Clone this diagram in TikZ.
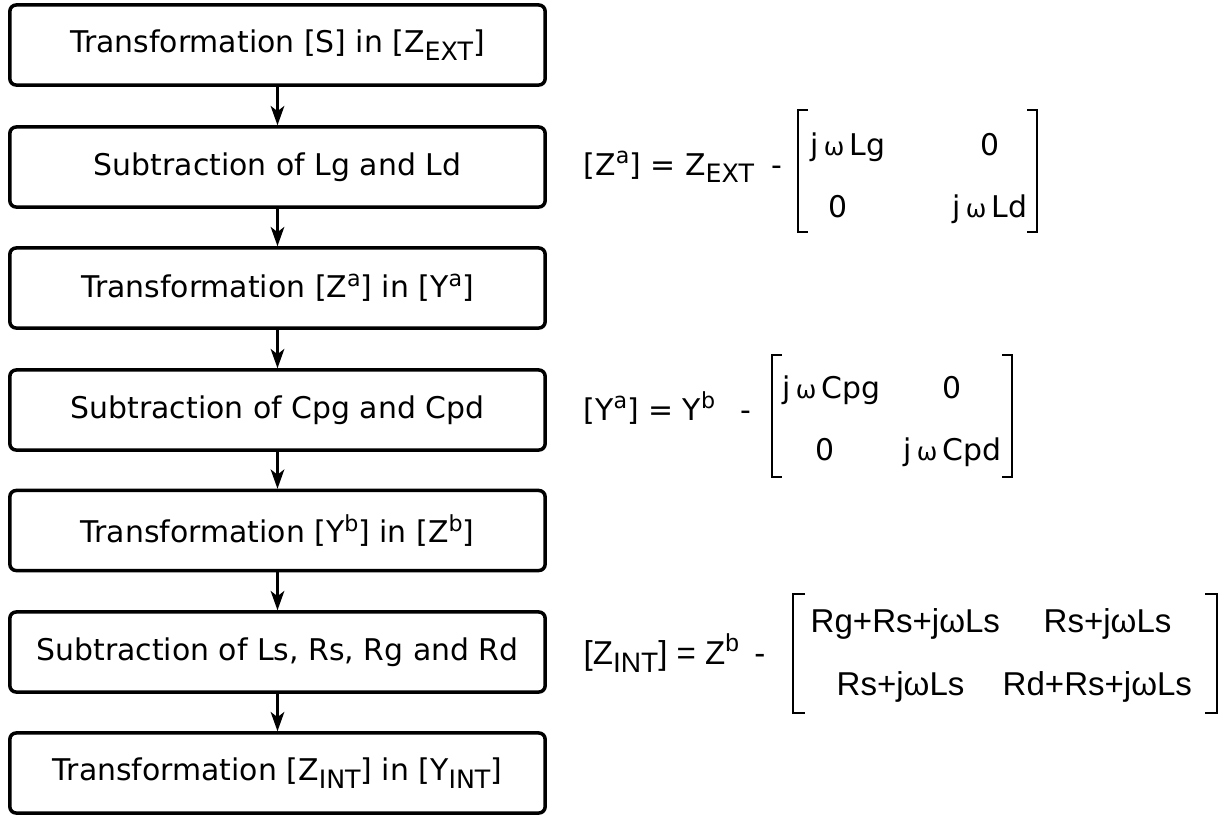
\documentclass[tikz,border=0pt]{standalone}
\usepackage{fontspec}
\setmainfont{DejaVu Sans}
\newfontfamily\arialfont{Liberation Sans}
\usetikzlibrary{arrows.meta}
\newcommand{\om}{\,{\fontsize{7}{8}\selectfont ω}\,}
\newcommand{\up}[2][6.3]{\raisebox{0.37em}{\fontsize{#1}{#1}\selectfont #2}}
\newcommand{\dn}[2][7.2]{\raisebox{-0.25em}{\fontsize{#1}{#1}\selectfont #2}}
\tikzset{
	stepbox/.style={draw, line width=1pt, rounded corners=1.8pt, minimum width=5.35cm, minimum height=0.8cm, inner sep=0pt, font=\fontsize{8.5}{10}\selectfont},
	flow/.style={-{Stealth[length=5.5pt,width=3.9pt,inset=1.5pt]}, line width=0.6pt},
	brk/.style={line width=0.6pt},
	eqtext/.style={anchor=base west, inner sep=0pt, font=\fontsize{8.5}{10}\selectfont},
	eqarial/.style={anchor=base west, inner sep=0pt, font=\arialfont\fontsize{9.4}{11}\selectfont}
}

\begin{document}
\begin{tikzpicture}[x=0.01cm, y=-0.01cm]
	\useasboundingbox (0,0) rectangle (1223,814);

	\node[stepbox] (s1) at (277.5,45) {Transformation [S] in [Z\dn{EXT}]};
	\node[stepbox] (s2) at (277.5,167) {Subtraction of Lg and Ld};
	\node[stepbox] (s3) at (277.5,288) {Transformation [Z\up{a}] in [Y\up{a}]};
	\node[stepbox] (s4) at (277.5,410) {Subtraction of Cpg and Cpd};
	\node[stepbox] (s5) at (277.5,530.5) {Transformation [Y\up{b}] in [Z\up{b}]};
	\node[stepbox] (s6) at (277.5,652) {Subtraction of Ls, Rs, Rg and Rd};
	\node[stepbox] (s7) at (277.5,773) {Transformation [Z\dn{INT}] in [Y\dn{INT}]};

	\draw[flow] (s1) -- (s2);
	\draw[flow] (s2) -- (s3);
	\draw[flow] (s3) -- (s4);
	\draw[flow] (s4) -- (s5);
	\draw[flow] (s5) -- (s6);
	\draw[flow] (s6) -- (s7);

	\node[eqtext] (lgleft) at (583,175) {[Z\up{a}] = Z\dn{EXT}};
	\node[eqtext, anchor=base] (lgminus) at (777,175) {-};
	\draw[brk] (808,110) -- (798,110) -- (798,232) -- (808,232);
	\draw[brk] (1027,110) -- (1037,110) -- (1037,232) -- (1027,232);
	\node[eqtext] (lg11) at (810,155) {j\om Lg};
	\node[eqtext] (lg12) at (980,155) {0};
	\node[eqtext] (lg21) at (828,217) {0};
	\node[eqtext] (lg22) at (952,217) {j\om Ld};

	\node[eqtext] (cpleft) at (583,420) {[Y\up{a}] = Y\up{b}};
	\node[eqtext, anchor=base] (cpminus) at (746,420) {-};
	\draw[brk] (782,355) -- (772,355) -- (772,477) -- (782,477);
	\draw[brk] (1002,355) -- (1012,355) -- (1012,477) -- (1002,477);
	\node[eqtext] (cp11) at (782,398) {j\om Cpg};
	\node[eqtext] (cp12) at (942,398) {0};
	\node[eqtext] (cp21) at (815,460) {0};
	\node[eqtext] (cp22) at (903,460) {j\om Cpd};

	\node[eqarial] (rsleft) at (583,664) {[Z\dn[8]{INT}] = Z\up[7]{b}};
	\node[eqarial, anchor=base] (rsminus) at (760,664) {-};
	\draw[brk] (805,594) -- (793,594) -- (793,713) -- (805,713);
	\draw[brk] (1205,594) -- (1217,594) -- (1217,713) -- (1205,713);
	\node[eqarial] (rs11) at (810,632) {Rg+Rs+jωLs};
	\node[eqarial] (rs12) at (1043,632) {Rs+jωLs};
	\node[eqarial] (rs21) at (836,695) {Rs+jωLs};
	\node[eqarial] (rs22) at (1002,695) {Rd+Rs+jωLs};
\end{tikzpicture}
\end{document}
